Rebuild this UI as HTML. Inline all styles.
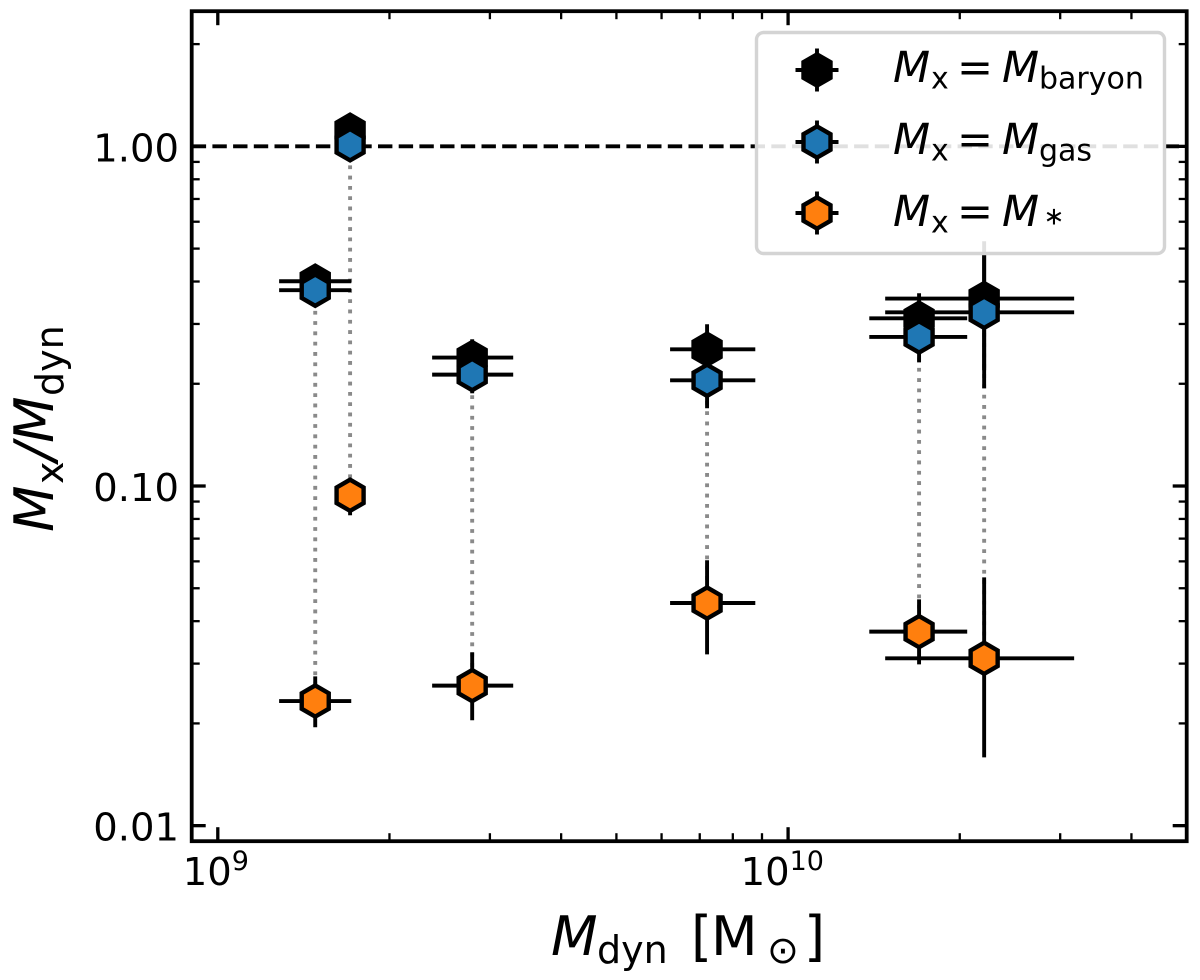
<!DOCTYPE html>
<html lang="en">
<head>
<meta charset="utf-8">
<title>Mass fraction vs dynamical mass</title>
<style>
  html, body { margin: 0; padding: 0; background: #fff; }
  svg { display: block; }
  text { font-family: "DejaVu Sans", "Liberation Sans", sans-serif; fill: #000; }
  .it { font-style: italic; }
</style>
</head>
<body>
<svg id="chart" xmlns="http://www.w3.org/2000/svg" width="1200" height="980" viewBox="0 0 1200 980">
  <rect width="1200" height="980" fill="#fff"/>
  <g id="reference-layer"></g>
  <g id="connector-layer"></g>
  <g id="series-layer"></g>
  <g id="tick-layer"></g>
  <g id="legend">
    <rect x="756.5" y="32.5" width="408" height="221" rx="7" ry="7" fill="#fff" fill-opacity="0.88" stroke="#d4d4d4" stroke-width="3.4"/>
    <g>
      <g id="legend-handle-baryon"></g>
      <text class="it" x="893" y="82" font-size="43">M</text>
      <text x="931" y="88.5" font-size="30">x</text>
      <text x="957" y="82" font-size="43">=</text>
      <text class="it" x="1002" y="82" font-size="43">M</text>
      <text x="1039" y="88.5" font-size="30">baryon</text>
    </g>
    <g>
      <g id="legend-handle-gas"></g>
      <text class="it" x="893" y="154" font-size="43">M</text>
      <text x="931" y="160.5" font-size="30">x</text>
      <text x="957" y="154" font-size="43">=</text>
      <text class="it" x="1002" y="154" font-size="43">M</text>
      <text x="1039" y="160.5" font-size="30">gas</text>
    </g>
    <g>
      <g id="legend-handle-stars"></g>
      <text class="it" x="893" y="226" font-size="43">M</text>
      <text x="931" y="232.5" font-size="30">x</text>
      <text x="957" y="226" font-size="43">=</text>
      <text class="it" x="1002" y="226" font-size="43">M</text>
      <text x="1043.5" y="224.5" font-size="25">∗</text>
    </g>
  </g>
  <rect x="191.7" y="11.2" width="995" height="830" fill="none" stroke="#000" stroke-width="3.8"/>
  <g id="tick-label-layer"></g>
  <g>
    <text class="it" x="551" y="955" font-size="54">M</text>
    <text x="597" y="963" font-size="38">dyn</text>
    <text x="691" y="955" font-size="54">[</text>
    <text x="711" y="955" font-size="54">M</text>
    <text x="767" y="963" font-size="38">⊙</text>
    <text x="804" y="955" font-size="54">]</text>
  </g>
  <g transform="translate(53 530) rotate(-90)">
    <text class="it" x="-2" y="0" font-size="54">M</text>
    <text x="46" y="10" font-size="38">x</text>
    <text class="it" x="69" y="0" font-size="54">/</text>
    <text class="it" x="87" y="0" font-size="54">M</text>
    <text x="134" y="10" font-size="38">dyn</text>
  </g>
</svg>
<script>
// ----- Data -----
const mdyn    = [1.482e9, 1.706e9, 2.793e9, 7.21e9, 1.697e10, 2.207e10];
const mdynLo  = [1.281e9, 1.65e9, 2.376e9, 6.21e9, 1.388e10, 1.480e10];
const mdynHi  = [1.714e9, 1.76e9, 3.296e9, 8.76e9, 2.061e10, 3.174e10];

const baryon   = [0.4007, 1.115, 0.2388, 0.2527, 0.3118, 0.3563];
const baryonLo = [0.37, 1.03, 0.21, 0.21, 0.26, 0.2191];
const baryonHi = [0.43, 1.20, 0.2704, 0.2993, 0.3694, 0.5255];

const gas   = [0.3771, 1.011, 0.2128, 0.2047, 0.2747, 0.3246];
const gasLo = [0.345, 0.92, 0.1875, 0.1694, 0.2313, 0.1939];
const gasHi = [0.40, 1.08, 0.235, 0.235, 0.31, 0.48];

const stars   = [0.02328, 0.0939, 0.02584, 0.04524, 0.03726, 0.03110];
const starsLo = [0.01948, 0.0820, 0.02043, 0.03195, 0.02985, 0.01589];
const starsHi = [0.02751, 0.1039, 0.03239, 0.06044, 0.04638, 0.05384];

const xMajorTicks = [1e9, 1e10];
const xMinorTicks = [2e9, 3e9, 4e9, 5e9, 6e9, 7e9, 8e9, 9e9, 2e10, 3e10, 4e10];
const yMajorTicks = [0.01, 0.1, 1];
const yMajorLabels = ['0.01', '0.10', '1.00'];
const yMinorTicks = [0.02, 0.03, 0.04, 0.05, 0.06, 0.07, 0.08, 0.09, 0.2, 0.3, 0.4, 0.5, 0.6, 0.7, 0.8, 0.9, 2];
const xMajorBases = ['10', '10'];
const xMajorExponents = ['9', '10'];
const referenceLevel = [1];

// ----- Axis functions -----
const plot = { left: 191.7, right: 1186.7, top: 11.2, bottom: 841.2 };
const xDomain = [9e8, 5e10];
const yDomain = [0.009, 2.5];
function xScale(v) {
  return plot.left + (Math.log10(v) - Math.log10(xDomain[0])) / (Math.log10(xDomain[1]) - Math.log10(xDomain[0])) * (plot.right - plot.left);
}
function yScale(v) {
  return plot.bottom - (Math.log10(v) - Math.log10(yDomain[0])) / (Math.log10(yDomain[1]) - Math.log10(yDomain[0])) * (plot.bottom - plot.top);
}

// ----- Drawing helpers -----
const NS = 'http://www.w3.org/2000/svg';
function drawLine(parent, name, x1, y1, x2, y2, width, color, dash) {
  const el = document.createElementNS(NS, 'line');
  
  
  el.setAttribute('x1', x1);
  el.setAttribute('y1', y1);
  el.setAttribute('x2', x2);
  el.setAttribute('y2', y2);
  el.setAttribute('stroke', color);
  el.setAttribute('stroke-width', width);
  if (dash) el.setAttribute('stroke-dasharray', dash);
  parent.appendChild(el);
  return el;
}
function drawHex(parent, name, cx, cy, fill) {
  const R = 15.6;
  const pts = [];
  for (let k = 0; k < 6; k++) {
    const a = Math.PI / 2 + k * Math.PI / 3;
    pts.push((cx + R * Math.cos(a)).toFixed(2) + ',' + (cy - R * Math.sin(a)).toFixed(2));
  }
  const el = document.createElementNS(NS, 'polygon');
  
  
  el.setAttribute('points', pts.join(' '));
  el.setAttribute('fill', fill);
  el.setAttribute('stroke', '#000');
  el.setAttribute('stroke-width', '4.4');
  el.setAttribute('stroke-linejoin', 'miter');
  parent.appendChild(el);
  return el;
}
function drawText(parent, name, x, y, size, anchor, content) {
  const el = document.createElementNS(NS, 'text');
  
  
  el.setAttribute('x', x);
  el.setAttribute('y', y);
  el.setAttribute('font-size', size);
  el.setAttribute('text-anchor', anchor);
  el.textContent = content;
  parent.appendChild(el);
  return el;
}

// ----- Reference line -----
const refLayer = document.getElementById('reference-layer');
referenceLevel.forEach(function (v) {
  drawLine(refLayer, 'unity-reference-line', plot.left, yScale(v), plot.right, yScale(v), 3.9, '#000', '14.4 6.3');
});

// ----- Connectors from gas to stars -----
const connectorLayer = document.getElementById('connector-layer');
mdyn.forEach(function (m, i) {
  drawLine(connectorLayer, 'gas-stars-connector-' + i, xScale(m), yScale(gas[i]), xScale(m), yScale(stars[i]), 3.9, '#8a8a8a', '3.8 6.5');
});

// ----- Series -----
const seriesLayer = document.getElementById('series-layer');
const seriesNames = ['baryon', 'gas', 'stars'];
const seriesFills = ['#000000', '#1f77b4', '#ff7f0e'];
const seriesValues = [baryon, gas, stars];
const seriesLows = [baryonLo, gasLo, starsLo];
const seriesHighs = [baryonHi, gasHi, starsHi];
seriesNames.forEach(function (name, s) {
  mdyn.forEach(function (m, i) {
    const px = xScale(m);
    const py = yScale(seriesValues[s][i]);
    drawLine(seriesLayer, name + '-xerr-' + i, xScale(mdynLo[i]), py, xScale(mdynHi[i]), py, 3.9, '#000');
    drawLine(seriesLayer, name + '-yerr-' + i, px, yScale(seriesLows[s][i]), px, yScale(seriesHighs[s][i]), 3.9, '#000');
  });
  mdyn.forEach(function (m, i) {
    drawHex(seriesLayer, name + '-point-' + i, xScale(m), yScale(seriesValues[s][i]), seriesFills[s]);
  });
});

// ----- Legend handles -----
const handleY = [70, 142, 213];
seriesNames.forEach(function (name, s) {
  const g = document.getElementById('legend-handle-' + name);
  const hx = 817;
  const hy = handleY[s];
  drawLine(g, 'legend-xerr-' + name, hx - 21.5, hy, hx + 21.5, hy, 3.9, '#000');
  drawLine(g, 'legend-yerr-' + name, hx, hy - 21.5, hx, hy + 21.5, 3.9, '#000');
  drawHex(g, 'legend-marker-' + name, hx, hy, seriesFills[s]);
});

// ----- Ticks -----
const tickLayer = document.getElementById('tick-layer');
const labelLayer = document.getElementById('tick-label-layer');
xMajorTicks.forEach(function (v, i) {
  const x = xScale(v);
  drawLine(tickLayer, 'x-major-tick-bottom-' + i, x, plot.bottom, x, plot.bottom - 14, 3.3, '#000');
  drawLine(tickLayer, 'x-major-tick-top-' + i, x, plot.top, x, plot.top + 14, 3.3, '#000');
  const offset = i === 0 ? -35 : -47.5;
  drawText(labelLayer, 'x-tick-label-base-' + i, x + offset, 885, 38.5, 'start', xMajorBases[i]);
  drawText(labelLayer, 'x-tick-label-exponent-' + i, x + offset + 49, 870, 27, 'start', xMajorExponents[i]);
});
xMinorTicks.forEach(function (v, i) {
  const x = xScale(v);
  drawLine(tickLayer, 'x-minor-tick-bottom-' + i, x, plot.bottom, x, plot.bottom - 8, 2.3, '#000');
  drawLine(tickLayer, 'x-minor-tick-top-' + i, x, plot.top, x, plot.top + 8, 2.3, '#000');
});
yMajorTicks.forEach(function (v, i) {
  const y = yScale(v);
  drawLine(tickLayer, 'y-major-tick-left-' + i, plot.left, y, plot.left + 14, y, 3.3, '#000');
  drawLine(tickLayer, 'y-major-tick-right-' + i, plot.right, y, plot.right - 14, y, 3.3, '#000');
  drawText(labelLayer, 'y-tick-label-' + i, 179, y + 15, 38.5, 'end', yMajorLabels[i]);
});
yMinorTicks.forEach(function (v, i) {
  const y = yScale(v);
  drawLine(tickLayer, 'y-minor-tick-left-' + i, plot.left, y, plot.left + 8, y, 2.3, '#000');
  drawLine(tickLayer, 'y-minor-tick-right-' + i, plot.right, y, plot.right - 8, y, 2.3, '#000');
});
</script>
</body>
</html>
